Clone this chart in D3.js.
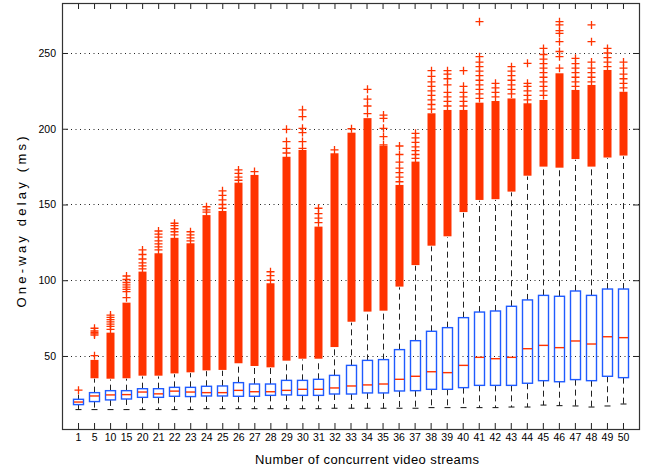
<!DOCTYPE html>
<html>
<head>
<meta charset="utf-8">
<script src="https://cdn.jsdelivr.net/npm/d3@7"></script>
<style>
  body { margin: 0; background: #fff; }
  svg { display: block; font-family: "Liberation Sans", Arial, sans-serif; }
</style>
</head>
<body>
<div id="chart"></div>
<script>
// Boxplot of one-way delay per number of concurrent video streams
const categories = ["1","5","10","15","20","21","22","23","24","25","26","27","28","29","30","31","32","33",
  "34","35","36","37","38","39","40","41","42","43","44","45","46","47","48","49","50"];

const q1 = [17.9, 19.9, 21.0, 21.6, 22.7, 22.7, 23.4, 23.2, 23.6, 23.6, 23.4, 23.4, 24.0, 24.3, 24.0, 24.0, 24.9, 24.9,
  25.6, 25.6, 26.9, 27.1, 28.0, 28.0, 29.1, 30.6, 30.6, 30.6, 32.0, 33.7, 33.0, 34.4, 33.7, 36.6, 35.7];
const medians = [19.6, 23.6, 24.3, 24.5, 26.2, 25.0, 26.8, 26.2, 25.8, 25.8, 27.3, 26.4, 26.4, 27.3, 28.0, 28.0, 28.9, 30.2,
  30.9, 31.5, 34.6, 36.6, 39.6, 39.0, 43.8, 49.1, 48.2, 49.1, 54.8, 57.0, 55.5, 59.9, 57.9, 62.7, 62.1];
const q3 = [21.4, 25.8, 27.1, 27.1, 28.4, 28.4, 29.3, 29.3, 30.0, 30.2, 32.4, 31.5, 31.5, 33.9, 33.9, 34.6, 37.2, 43.8,
  47.1, 47.6, 54.2, 60.1, 66.3, 68.7, 75.3, 79.0, 79.7, 82.8, 87.0, 90.0, 89.4, 92.9, 90.0, 94.2, 94.2];
const whiskerLow = [14.6, 14.6, 14.6, 14.6, 14.6, 14.6, 14.6, 14.6, 15.2, 15.2, 15.2, 15.2, 15.2, 15.2, 15.2, 15.2, 15.5, 15.5,
  15.5, 15.5, 15.5, 15.5, 15.9, 15.9, 15.9, 15.9, 15.9, 16.3, 16.3, 17.6, 17.2, 17.0, 16.3, 17.0, 18.3];
const whiskerHigh = [24.5, 35.0, 34.5, 35.0, 36.5, 36.5, 38.0, 38.7, 40.0, 40.3, 44.7, 43.0, 42.0, 46.4, 47.7, 47.7, 55.4, 72.0,
  78.8, 79.4, 95.3, 109.5, 122.3, 128.5, 144.5, 152.5, 153.0, 158.0, 168.5, 174.5, 173.8, 179.5, 174.5, 180.5, 181.8];

// dense runs of outliers (markers overlap into a solid bar)
const outlierRunLow = [null, 35.3, 35.0, 35.3, 37.0, 37.0, 38.5, 39.2, 40.5, 40.8, 45.2, 43.4, 42.5, 46.9, 48.2, 48.2, 55.9, 72.6,
  79.3, 79.9, 95.8, 110.0, 122.8, 129.0, 145.0, 153.0, 153.5, 158.5, 169.0, 175.0, 174.3, 180.0, 175.0, 181.0, 182.3];
const outlierRunHigh = [null, 47.4, 65.4, 85.2, 105.7, 117.8, 128.0, 124.4, 143.0, 145.7, 164.4, 169.5, 98.0, 181.5, 186.0, 135.4, 183.8, 197.4,
  207.0, 188.8, 162.9, 178.3, 210.2, 212.4, 212.4, 217.2, 218.3, 220.0, 216.8, 219.0, 236.6, 225.6, 228.9, 238.8, 224.4];

// separate outliers above the dense runs
const outliers = [
  [27.4],
  [50.2, 63.8, 64.6, 65.4, 66.5, 68.3],
  [67.5, 69.5, 71, 72.5, 74, 75.5, 77],
  [88.5, 92.5, 94, 95.5, 97, 98.5, 100.5, 102.8],
  [107.5, 109.5, 111.5, 114, 117, 120],
  [120, 122, 124, 126, 128.5, 130.5, 132.5],
  [130, 132, 134, 136, 137.6],
  [126, 128, 130, 132],
  [145, 146.5, 148.5],
  [147.5, 150, 153, 156, 159],
  [166, 168, 170.5, 172.8],
  [171.7],
  [100, 103, 105.6],
  [184, 187, 191.5, 199.6],
  [187, 191.5, 197.5, 200.3, 208, 212.5],
  [138, 141, 144, 147.5],
  [186],
  [200],
  [210, 215, 219.5, 226],
  [189.3, 194.8, 200.3, 206.9, 209],
  [165, 168, 171, 174, 178, 183, 188.6],
  [180.5, 183, 185.5, 188, 191, 194, 197],
  [213, 216, 219, 222, 225, 228, 231, 234.5, 238.3],
  [215, 218, 221, 224, 229, 233, 236, 238.3],
  [215, 218, 221, 224, 228, 238.3],
  [220, 223, 226, 229, 232, 235, 238, 241, 244, 247.6, 270.7],
  [221, 224, 227, 230],
  [223, 226, 229, 232, 235, 238, 241],
  [219, 222, 225, 228, 230, 243.2],
  [222, 225, 228, 231, 234, 237, 240, 243, 246, 249, 253],
  [240, 247.6, 251, 257.5, 263, 264.7, 268.5, 270.7],
  [228, 231, 234, 237, 240, 243, 246.5],
  [231, 234, 237, 240, 244, 257.5, 268.5],
  [241, 244, 247, 250, 253],
  [227, 230, 233, 236, 240, 244]
];

const yTicks = [50, 100, 150, 200, 250];

const margin = { top: 3, right: 12, bottom: 43, left: 62 },
      width = 651 - margin.left - margin.right,
      height = 472 - margin.top - margin.bottom;

const BLUE = "#1f5bff", RED = "#ff3300";

const root = d3.select("#chart")
  .append("svg")
  .attr("width", width + margin.left + margin.right)
  .attr("height", height + margin.top + margin.bottom);

const svg = root.append("g")
  .attr("transform", `translate(${margin.left},${margin.top})`);

const x = d3.scalePoint()
  .domain(categories)
  .range([0, width])
  .padding(1);

const y = d3.scaleLinear()
  .domain([1.8, 283])
  .range([height, 0]);

// dotted grid
svg.append("g")
  .selectAll("line")
  .data(yTicks)
  .join("line")
  .attr("x1", 0)
  .attr("x2", width)
  .attr("y1", d => Math.round(y(d)) + 0.5)
  .attr("y2", d => Math.round(y(d)) + 0.5)
  .attr("stroke", "#222")
  .attr("stroke-dasharray", "1,3.5");

const rows = categories.map((c, i) => ({
  c, q1: q1[i], med: medians[i], q3: q3[i],
  lo: whiskerLow[i], hi: whiskerHigh[i],
  runLo: outlierRunLow[i], runHi: outlierRunHigh[i],
  out: outliers[i]
}));

const g = svg.append("g")
  .selectAll("g")
  .data(rows)
  .join("g")
  .attr("transform", d => `translate(${Math.round(x(d.c)) + 0.5},0)`);

// whiskers
g.append("line")
  .attr("y1", d => y(d.q1)).attr("y2", d => y(d.lo))
  .attr("stroke", "#222").attr("stroke-dasharray", "6,4");
g.append("line")
  .attr("y1", d => y(d.q3)).attr("y2", d => y(d.hi))
  .attr("stroke", "#222").attr("stroke-dasharray", "6,4");
g.append("line")
  .attr("x1", -3).attr("x2", 3)
  .attr("y1", d => y(d.lo)).attr("y2", d => y(d.lo))
  .attr("stroke", "#111");

// boxes
g.append("rect")
  .attr("x", -5).attr("width", 10)
  .attr("y", d => y(d.q3))
  .attr("height", d => y(d.q1) - y(d.q3))
  .attr("fill", "none")
  .attr("stroke", BLUE)
  .attr("stroke-width", 1.4);
g.append("line")
  .attr("x1", -4.5).attr("x2", 4.5)
  .attr("y1", d => y(d.med)).attr("y2", d => y(d.med))
  .attr("stroke", RED)
  .attr("stroke-width", 1.4);

// dense outlier runs
g.filter(d => d.runLo != null)
  .append("rect")
  .attr("x", -4).attr("width", 8)
  .attr("y", d => y(d.runHi))
  .attr("height", d => y(d.runLo) - y(d.runHi))
  .attr("fill", RED);

// separate outliers as '+'
g.selectAll(".plus")
  .data(d => d.out)
  .join("path")
  .attr("class", "plus")
  .attr("d", v => `M-4,${y(v)}H4M0,${y(v) - 4}V${y(v) + 4}`)
  .attr("stroke", RED)
  .attr("stroke-width", 1.3)
  .attr("fill", "none");

// axes with inward ticks on all four sides
const tickStyle = sel => {
  sel.select(".domain").remove();
  sel.selectAll(".tick line").attr("stroke", "#222");
  sel.selectAll("text").attr("fill", "#000").style("font-size", "10.5px");
};

svg.append("g")
  .attr("transform", `translate(0,${height})`)
  .call(d3.axisBottom(x).tickSizeInner(-6).tickSizeOuter(0).tickPadding(5))
  .call(tickStyle);

svg.append("g")
  .call(d3.axisTop(x).tickSizeInner(-6).tickSizeOuter(0).tickFormat(""))
  .call(tickStyle);

svg.append("g")
  .call(d3.axisLeft(y).tickValues(yTicks).tickSizeInner(-6).tickSizeOuter(0).tickPadding(6))
  .call(tickStyle);

svg.append("g")
  .attr("transform", `translate(${width},0)`)
  .call(d3.axisRight(y).tickValues(yTicks).tickSizeInner(-6).tickSizeOuter(0).tickFormat(""))
  .call(tickStyle);

// frame
svg.append("rect")
  .attr("x", 0.5).attr("y", 0.5)
  .attr("width", width).attr("height", height)
  .attr("fill", "none")
  .attr("stroke", "#333")
  .attr("stroke-width", 1.2);

// axis labels
root.append("text")
  .attr("x", 367)
  .attr("y", 464)
  .attr("text-anchor", "middle")
  .attr("textLength", 224)
  .attr("lengthAdjust", "spacing")
  .style("font-size", "13px")
  .text("Number of concurrent video streams");

root.append("text")
  .attr("transform", "translate(25.5,222) rotate(-90)")
  .attr("text-anchor", "middle")
  .attr("textLength", 171)
  .attr("lengthAdjust", "spacing")
  .style("font-size", "13px")
  .text("One-way delay (ms)");
</script>
</body>
</html>
